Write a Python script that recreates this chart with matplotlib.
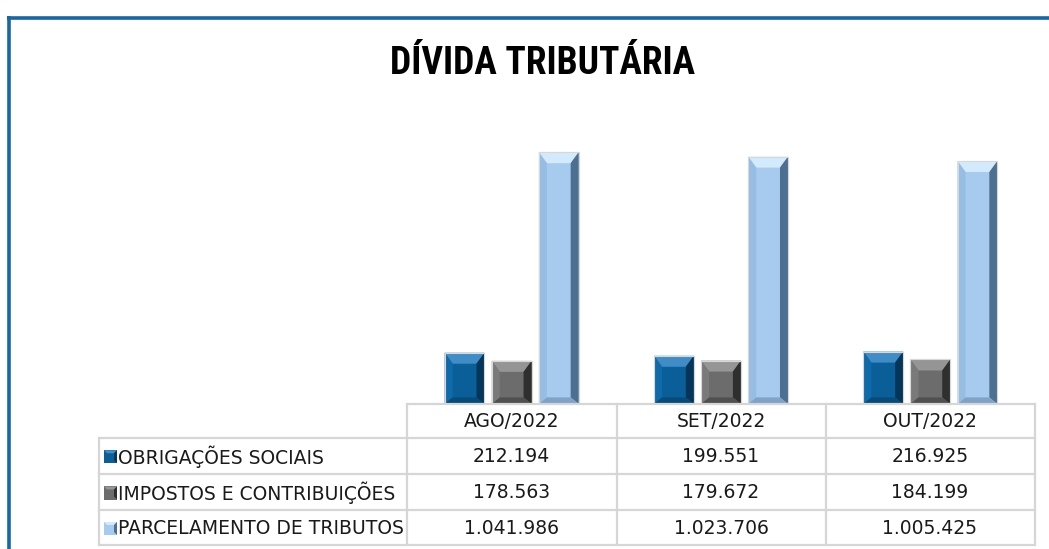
import matplotlib
matplotlib.use("Agg")
import matplotlib.pyplot as plt
from matplotlib.patches import Polygon, Rectangle
from matplotlib.lines import Line2D
from matplotlib import font_manager

# ---------------- data ----------------
title = "DÍVIDA TRIBUTÁRIA"
categories = ["AGO/2022", "SET/2022", "OUT/2022"]
series_names = ["OBRIGAÇÕES SOCIAIS", "IMPOSTOS E CONTRIBUIÇÕES", "PARCELAMENTO DE TRIBUTOS"]
obrigacoes = [212194, 199551, 216925]
impostos = [178563, 179672, 184199]
parcelamento = [1041986, 1023706, 1005425]
series_values = [obrigacoes, impostos, parcelamento]

# ---------------- style ----------------
W, H = 1049, 549
face = ["#0b5f99", "#6c6c6c", "#a7cbef"]
top_c = ["#3f8cc6", "#959595", "#d2eafc"]
left_c = ["#0e6aa9", "#7a7a7a", "#96bde4"]
right_c = ["#053659", "#2f2f2f", "#4d6f92"]
bot_c = ["#084b7a", "#505050", "#7fa2c6"]
frame_col = "#1766a6"
grid_col = "#d6d6d6"
FONT = ["DejaVu Sans"]

avail = {f.name for f in font_manager.fontManager.ttflist}
title_family = "DejaVu Sans"
for cand in ["Liberation Sans Narrow", "Roboto Condensed", "Open Sans Condensed",
             "DejaVu Sans Condensed"]:
    if cand in avail:
        title_family = cand
        break


def fx(x):
    return x / W


def fy(y):
    return 1 - y / H


fig = plt.figure(figsize=(W / 100, H / 100), dpi=100)
fig.patch.set_facecolor("white")

# outer frame (top and left)
fig.add_artist(Line2D([fx(7), fx(W + 5)], [fy(17.5), fy(17.5)], color=frame_col, lw=2.6,
                      solid_capstyle="butt"))
fig.add_artist(Line2D([fx(8.5), fx(8.5)], [fy(16.2), fy(H + 5)], color=frame_col, lw=2.6,
                      solid_capstyle="butt"))

# title
fig.text(fx(542), fy(63), title, ha="center", va="center", fontsize=27, fontweight="bold",
         family=[title_family, "DejaVu Sans"], fontstretch="condensed", color="black")

# ---------------- bar axes ----------------
x0, x1 = 407, 1035
yb, yt = 404, 114
ax = fig.add_axes([fx(x0), fy(yb), fx(x1) - fx(x0), fy(yt) - fy(yb)])
ax.set_xlim(-0.5, len(categories) - 0.5)
ax.set_ylim(0, 1200000)
ax.axis("off")

offsets = [-0.225, 0.0, 0.225]
bw = 0.19
px_x = (len(categories)) / (x1 - x0)          # data units per pixel (x)
px_y = 1200000 / (yb - yt)                    # data units per pixel (y)
bev_x = 8 * px_x
bev_y = 11 * px_y

for si, vals in enumerate(series_values):
    xs = [i + offsets[si] for i in range(len(categories))]
    bars = ax.bar(xs, vals, width=bw, color=face[si], edgecolor="#dcdcdc", linewidth=0.8,
                  zorder=2)
    for b in bars:
        l = b.get_x()
        r = l + b.get_width()
        t = b.get_height()
        d = min(bev_y, t / 3)
        db = d * 0.6
        polys = [
            ([(l, t), (r, t), (r - bev_x, t - d), (l + bev_x, t - d)], top_c[si]),
            ([(r, t), (r, 0), (r - bev_x, db), (r - bev_x, t - d)], right_c[si]),
            ([(l, t), (l, 0), (l + bev_x, db), (l + bev_x, t - d)], left_c[si]),
            ([(l, 0), (r, 0), (r - bev_x, db), (l + bev_x, db)], bot_c[si]),
        ]
        for pts, c in polys:
            ax.add_patch(Polygon(pts, closed=True, facecolor=c, edgecolor="none", zorder=3))
        ax.add_patch(Rectangle((l, 0), r - l, t, facecolor="none", edgecolor="#d8d8d8",
                               linewidth=0.8, zorder=4))

# ---------------- data table ----------------
L = 99
col_edges = [407, 616.5, 825.5, 1034.5]
row_edges = [403.5, 437.5, 474, 510, 545]
lw = 1.6
fig.add_artist(Line2D([fx(col_edges[0]), fx(col_edges[-1])], [fy(row_edges[0])] * 2,
                      color=grid_col, lw=lw))
for yy in row_edges[1:]:
    fig.add_artist(Line2D([fx(L), fx(col_edges[-1])], [fy(yy)] * 2, color=grid_col, lw=lw))
for xx in col_edges:
    fig.add_artist(Line2D([fx(xx)] * 2, [fy(row_edges[0]), fy(row_edges[-1])],
                          color=grid_col, lw=lw))
fig.add_artist(Line2D([fx(L)] * 2, [fy(row_edges[1]), fy(row_edges[-1])], color=grid_col, lw=lw))

fs = 13.5
for ci, cat in enumerate(categories):
    cx = (col_edges[ci] + col_edges[ci + 1]) / 2
    fig.text(fx(cx), fy((row_edges[0] + row_edges[1]) / 2 + 1), cat, ha="center", va="center",
             fontsize=fs, family=FONT, color="#1a1a1a")


def fmt(v):
    return f"{v:,}".replace(",", ".")


for si, vals in enumerate(series_values):
    cy = (row_edges[si + 1] + row_edges[si + 2]) / 2 + 1
    mx = L + 5
    ms = 13
    kx0, kx1 = fx(mx), fx(mx + ms)
    ky0, ky1 = fy(cy + ms / 2), fy(cy - ms / 2)
    fig.add_artist(Rectangle((kx0, ky0), kx1 - kx0, ky1 - ky0, facecolor=face[si],
                             edgecolor="none", transform=fig.transFigure))
    bx = 3 / W
    by = 3 / H
    fig.add_artist(Polygon([(kx0, ky1), (kx1, ky1), (kx1 - bx, ky1 - by), (kx0 + bx, ky1 - by)],
                           facecolor=top_c[si], edgecolor="none", transform=fig.transFigure))
    fig.add_artist(Polygon([(kx1, ky1), (kx1, ky0), (kx1 - bx, ky0 + by), (kx1 - bx, ky1 - by)],
                           facecolor=right_c[si], edgecolor="none", transform=fig.transFigure))
    fig.text(fx(mx + ms + 1), fy(cy), series_names[si], ha="left", va="center", fontsize=fs,
             family=FONT, color="#1a1a1a")
    for ci, v in enumerate(vals):
        cx = (col_edges[ci] + col_edges[ci + 1]) / 2
        fig.text(fx(cx), fy(cy), fmt(v), ha="center", va="center", fontsize=fs, family=FONT,
                 color="#1a1a1a")

fig.savefig("out.png", dpi=100)
